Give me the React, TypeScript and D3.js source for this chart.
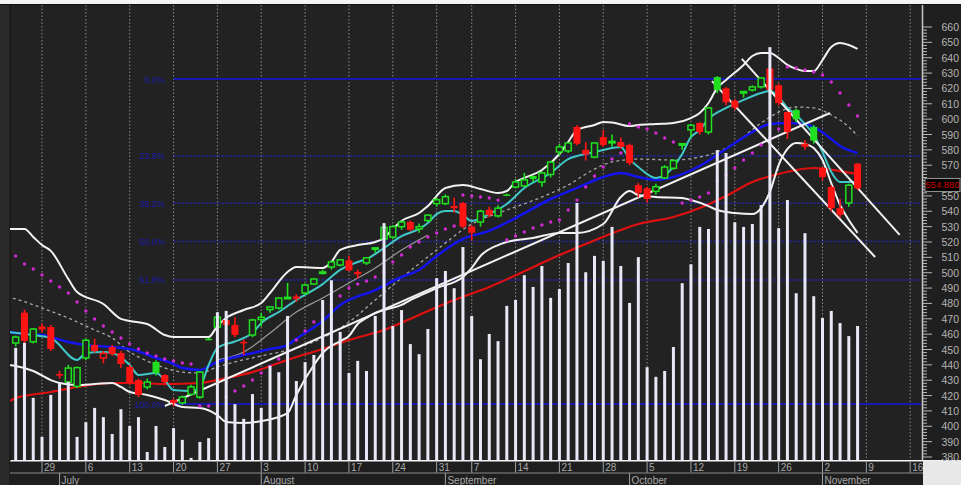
import React from "react";
import * as d3 from "d3";

const W = 961, H = 485;
const PL = 10, PR = 921, PT = 5, PB = 460;

const openP = [454.2,474,455,465,464.6,434,428.8,426,444.5,453,444.5,451.6,447.7,438.6,430.1,425.6,441.9,433.4,417.1,415.2,420.8,419,457,464.6,469.2,466,455,459.4,469.5,476,477,483.5,484.5,486.8,492.6,499.7,503.7,505,508,500.5,506.4,515.5,522,523.2,530,533,528.5,534,545,545,543.5,545.4,530,533,541,537,551,555.8,556.5,563,559,564,578.6,579.3,594.9,580,575.3,588.4,585,585.1,583.2,557,555,553,561.7,568,583,593,597.5,591.6,627.4,620,612,617,619,621,633,622,604.6,606,584,595,568.2,555.8,542,545.4,571];
const highP = [459,476,464,467,466,436,440,439,457,457,449,453,449,440,431,431,443,434,418,420,427,436,457.5,473,470,471,456.5,470,474,478,484,493.3,486,493,496.5,502,508,509,511,502,510,516.5,532,531,534,534,532,538,549,551,549,546,531,541,543,544,551.5,561,565,563.5,566,573,584,585,596,585,585,593,590,588,584,558.5,556,558,570,574,584.5,597,598,608,628,621,613,618,622,627,634,623,605,607,586.5,596,569,557,548,558,571.5];
const lowP = [452,454,454,461,449,431,428,425,443,448,441,446,438,427,419,424,433,428,413,414,420,418,456,462,465,458,446.4,458,465,474,476,483,481,485.5,492,499,502,504,501,496,505,513,521,522,528,527,526,533,543,544,539,529,521,530,536,536,550,555,556,559,556,562,576,578,583,573,574.5,582,582,581,570,549,545.5,551,561,567,580,588,590,590,617,609,606,614,618,620,618,609,587,598,580,584,560,540,536,543,554];
const closeP = [458.1,455.6,463.3,463,450.3,433,437.9,438.2,456,449,447.5,447,440.6,428.2,420.4,428.8,434.8,428.8,415.2,419,425.6,435.3,456.5,471.1,466,459.4,454,469.2,471,477.7,483.5,484,483,492,495.9,500.5,507,508.4,501.5,499,509.7,516.2,529.5,530,533,528,530,537.5,547.5,549.5,542,530,526,540,537.5,542,550.5,559.1,560.5,561,565,572,581.9,584.5,584,577,584.5,583.2,585.5,582,571.4,552,548,556,568.8,573,584,596,591.6,607.3,619,611,607.5,618,621,626.8,619,610.5,591.6,600,582,586,562.3,542,537.6,557,554.88];
const volume = [26.7,27.9,14.8,5.5,15.5,18.3,18.6,5.5,9.0,12.4,10.2,6.2,12.1,8.1,10.2,1.9,8.1,3.1,7.6,4.8,0.5,4.3,5.2,35.2,35.5,13.3,9.8,15.7,12.4,22.4,20.9,34.3,18.8,23.3,25.0,38.1,42.8,30.5,20.7,23.6,21.2,34.3,56.4,31.9,35.7,27.6,25.2,31.2,43.3,45.0,40.9,50.7,34.3,24.0,30.0,28.3,36.7,38.1,44.0,41.2,46.2,38.6,40.7,46.9,61.2,44.7,48.6,47.4,55.5,46.2,37.4,48.3,22.1,19.8,21.2,26.9,42.1,46.6,55.5,55.0,73.8,73.1,56.6,55.5,56.2,60.7,98.3,55.2,61.9,39.7,54.0,39.0,33.8,35.5,32.6,29.5,31.9];
const sar = [510.9,505.7,502.4,498.5,494.6,490.7,486.8,480.9,475.1,469.9,465.3,461.4,457.5,453.6,450.3,447.7,445.8,443.8,442.5,441.2,440.6,413.2,413.2,415.8,419.1,423.0,426.2,430.1,434.7,439.2,443.8,449.7,456.2,462.0,467.9,473.1,479.0,484.8,490.0,492.6,494.6,497.2,500.5,507.0,511.5,516.7,520.0,523.3,525.9,528.5,530.4,550.6,550.0,549.3,548.7,547.3,521.3,523.9,526.5,529.1,531.1,533.0,534.3,540.8,547.3,555.8,563.0,568.8,574.0,578.0,596.8,594.9,593.6,591.0,587.7,585.1,545.4,547.3,549.3,551.9,559.7,563.6,568.2,573.4,578.0,583.2,587.7,593.6,634.0,633.3,632.0,630.7,628.7,624.2,617.0,609.2,602.0];

const upperBand = [[-1,528.5],[1,528.5],[2,523.3],[3,518.0],[4,514.2],[6,495.9],[7,487.4],[10,479.6],[12,469.9],[13,468.6],[15,466.6],[17,459.4],[18,458.1],[22,458.1],[23,465.3],[24,470.5],[26,475.7],[28,480.3],[29,486.8],[31,500.5],[32,503.7],[35,503.1],[36,507.0],[37,514.8],[39,518.0],[41,520.0],[42,522.6],[43,528.5],[44,533.7],[46,538.9],[47,543.4],[49,555.2],[51,557.1],[53,554.5],[55,551.9],[56,553.2],[57,559.1],[58,561.7],[60,566.9],[62,577.3],[63,585.1],[64,592.9],[66,596.2],[67,598.1],[68,597.8],[70,595.5],[71,596.2],[73,596.8],[75,597.5],[77,600.7],[78,604.0],[79,610.5],[80,620.3],[81,625.5],[83,635.3],[84,641.1],[85,643.1],[86,643.1],[87,639.8],[88,635.3],[89,632.7],[90,631.3],[91,631.3],[92,638.5],[93,647.0],[94,649.6],[95,648.3],[96,645.7]];
const lowerBand = [[-1,439.9],[0,439.3],[2,436.0],[4,430.1],[5,428.2],[7,426.9],[9,427.5],[11,428.2],[12,425.6],[13,422.3],[15,420.4],[17,417.1],[19,412.6],[21,411.9],[23,407.3],[24,402.8],[26,402.1],[28,403.4],[31,408.6],[32,420.4],[34,439.9],[35,447.7],[37,455.5],[38,458.8],[39,466.6],[40,470.5],[41,473.8],[42,475.7],[44,479.0],[45,482.2],[46,484.8],[48,490.0],[51,497.2],[52,503.1],[53,510.9],[55,518.0],[56,520.0],[59,522.6],[62,525.9],[64,525.9],[67,531.7],[69,549.3],[70,553.2],[71,550.6],[73,549.3],[76,548.7],[77,547.3],[79,543.4],[80,540.8],[82,538.9],[84,538.2],[85,542.1],[86,552.6],[87,570.1],[88,580.6],[89,584.5],[90,583.8],[91,581.2],[92,573.4],[93,558.4],[94,544.1],[95,534.3],[96,525.9]];
const midBand = [[-1,484.2],[0,482.9],[3,477.0],[6,470.5],[9,462.7],[11,457.5],[13,448.4],[15,442.5],[17,438.0],[19,435.3],[21,434.7],[23,438.6],[25,441.9],[28,445.8],[32,451.0],[35,457.5],[38,467.9],[41,482.2],[44,496.6],[48,514.8],[52,531.7],[56,540.8],[60,549.3],[63,557.1],[66,567.5],[68,572.1],[71,574.0],[75,573.4],[79,576.7],[82,584.5],[85,597.5],[87,604.6],[89,607.9],[91,607.3],[93,602.7],[95,594.9],[96,589.0]];
const grayMA = [[23,443.2],[26,448.4],[29,460.7],[32,474.4],[35,483.5],[38,493.3],[41,503.1],[44,514.8],[47,524.6]];
const cyanMA = [[-1,461.4],[2,459.4],[4,457.5],[7,443.2],[8,447.7],[10,448.4],[11,447.7],[13,439.9],[14,433.4],[16,434.7],[17,430.1],[18,423.6],[20,422.9],[21,425.6],[22,439.9],[23,451.0],[25,455.2],[26,457.5],[27,460.7],[28,467.3],[30,474.4],[32,482.2],[35,492.6],[37,501.8],[39,507.0],[40,508.9],[42,516.1],[44,523.9],[46,528.5],[47,532.4],[48,538.2],[49,540.2],[50,540.2],[51,537.6],[52,533.7],[54,538.2],[56,544.7],[58,555.2],[61,564.9],[63,574.0],[64,576.0],[66,578.6],[67,579.9],[68,581.2],[69,581.9],[70,574.0],[71,568.8],[73,561.7],[74,563.6],[76,577.3],[77,588.4],[78,592.9],[79,600.1],[81,607.3],[83,612.5],[85,617.0],[86,618.3],[87,614.4],[88,607.3],[89,602.7],[90,596.8],[91,589.7],[92,578.6],[93,565.6],[94,559.1],[95,559.1],[96,559.1]];
const blueMA = [[-1,462.0],[0,460.7],[3,459.4],[6,454.9],[8,452.9],[11,451.6],[13,450.3],[16,444.5],[18,440.6],[19,437.9],[21,436.7],[23,441.9],[25,445.1],[26,446.4],[29,450.3],[31,452.9],[32,457.0],[35,468.6],[37,479.0],[41,488.7],[44,497.2],[46,501.8],[48,510.9],[51,522.0],[54,527.2],[57,535.6],[61,548.0],[64,555.2],[67,562.3],[69,564.9],[71,562.3],[73,560.4],[75,562.3],[78,569.5],[81,580.6],[84,591.6],[86,596.8],[88,597.5],[90,596.8],[91,594.9],[93,587.1],[94,582.5],[96,578.0]];
const redMA = [[-1,415.2],[0,418.4],[4,422.3],[7,425.6],[11,428.2],[14,428.2],[17,427.5],[21,428.2],[24,431.4],[27,435.3],[30,441.2],[32,445.1],[35,450.3],[38,456.2],[42,462.7],[46,472.5],[50,482.2],[54,490.7],[58,500.9],[61,508.9],[65,518.7],[69,527.8],[71,531.7],[75,536.3],[78,542.1],[81,549.9],[84,559.1],[87,564.3],[89,566.9],[91,568.2],[94,566.2],[96,564.3]];
const trendLines = [
  [[17, 413.2], [92.85, 604.0]],
  [[79.4, 624.8], [98.0, 510.2]],
  [[82.8, 639.2], [100.8, 524.6]],
];

const fibHigh = 626.1, fibLow = 414.5, fibStart = 18;
const fibPct = [0, 23.6, 38.2, 50, 61.8, 100];
const fibLabels = ["0.0%", "23.6%", "38.2%", "50.0%", "61.8%", "100.0%"];

const dayTickIdx = [3,8,13,18,23,28,33,38,43,48,52,57,62,67,72,77,82,87,92,97,102];
const dayTickLbl = ["29","6","13","20","27","3","10","17","24","31","7","14","21","28","5","12","19","26","2","9","16"];
const monthIdx = [5,28,49,70,92];
const monthLbl = ["July","August","September","October","November"];
const lastClose = 554.88;
const lastPrice = "554.880";

const GREEN = "#20e020", RED = "#ff1414", BG = "#222222";
const FONT = "'Liberation Sans', Arial, sans-serif";

export default function App() {
  const x = d3.scaleLinear().domain([0, 102]).range([15.7, 910.2]);
  const y = d3.scaleLinear().domain([380, 660]).range([457, 27]);
  const yv = d3.scaleLinear().domain([0, 100]).range([PB, 40]);
  const line = d3.line<number[]>().x(d => x(d[0])).y(d => y(d[1])).curve(d3.curveMonotoneX);
  const straight = d3.line<number[]>().x(d => x(d[0])).y(d => y(d[1]));

  const axisTicks = d3.range(380, 661, 2);
  const tagTop = y(lastClose) - 10;
  const tagH = 13;
  // the value label hidden behind the last-price tag is not drawn (as in the reference)
  const labelTicks = d3.range(380, 661, 10).filter(v => {
    const ty = y(v) + 4;
    return !(ty - 8 < tagTop + tagH && ty > tagTop);
  });

  return (
    <div style={{ position: "absolute", left: 0, top: 0 }}>
      <svg width={W} height={H} style={{ display: "block", fontFamily: FONT }}>
        <defs>
          <clipPath id="plot"><rect x={PL} y={PT} width={PR - PL} height={PB - PT} /></clipPath>
        </defs>
        <rect x={0} y={0} width={W} height={H} fill="#f4f4f4" />
        <rect x={0} y={PT} width={W} height={PB - PT} fill={BG} />
        <rect x={0} y={PT} width={PL} height={H - PT} fill="#2a2a2a" />
        <line x1={PL} x2={PL} y1={PT} y2={H} stroke="#111" />
        <line x1={0} x2={W} y1={PT - 0.5} y2={PT - 0.5} stroke="#111" />

        <g clipPath="url(#plot)">
          {dayTickIdx.map((t, k) => (
            <line key={"g" + k} x1={x(t)} x2={x(t)} y1={PT} y2={PB} stroke="#8a8a8a" strokeWidth={1} strokeDasharray="1.5 2" />
          ))}
          {fibPct.map((p, k) => {
            const v = fibHigh - (p / 100) * (fibHigh - fibLow);
            const solid = p === 0 || p === 100;
            return (
              <line key={"f" + k} x1={x(fibStart)} x2={PR} y1={y(v)} y2={y(v)}
                stroke={solid ? "#1818b0" : "#2424b8"} strokeWidth={solid ? 2 : 1.5}
                strokeDasharray={solid ? undefined : "2 2"} />
            );
          })}
          <path d={line(midBand) || ""} fill="none" stroke="#a8a8a8" strokeWidth={1.3} strokeDasharray="3 3" />
          <path d={line(grayMA) || ""} fill="none" stroke="#9a9a9a" strokeWidth={1.2} />
          <path d={line(redMA) || ""} fill="none" stroke="#e01010" strokeWidth={2.2} />
          <path d={line(blueMA) || ""} fill="none" stroke="#1414f0" strokeWidth={2.5} />
          <path d={line(cyanMA) || ""} fill="none" stroke="#40c8c8" strokeWidth={2} />
          <path d={line(upperBand) || ""} fill="none" stroke="#f2f2f2" strokeWidth={2} />
          <path d={line(lowerBand) || ""} fill="none" stroke="#f2f2f2" strokeWidth={2} />
          {trendLines.map((tl, k) => (
            <path key={"t" + k} d={straight(tl) || ""} fill="none" stroke="#f2f2f2" strokeWidth={2} />
          ))}
          {sar.map((v, i) => (
            <circle key={"s" + i} cx={x(i)} cy={y(v)} r={1.7} fill="#d22ad2" />
          ))}
          {openP.map((o, i) => {
            const c = closeP[i];
            const up = i === 0 ? true : c >= closeP[i - 1];
            const col = up ? GREEN : RED;
            const hollow = c > o;
            const cx = x(i);
            const top = y(Math.max(o, c));
            const bot = y(Math.min(o, c));
            const bh = Math.max(bot - top, 1.5);
            if (hollow) {
              return (
                <g key={"c" + i}>
                  <line x1={cx} x2={cx} y1={y(highP[i])} y2={top} stroke={col} strokeWidth={1.6} />
                  <line x1={cx} x2={cx} y1={top + bh} y2={y(lowP[i])} stroke={col} strokeWidth={1.6} />
                  <rect x={cx - 3} y={top} width={6} height={bh} fill={BG} stroke={col} strokeWidth={1.5} />
                </g>
              );
            }
            return (
              <g key={"c" + i}>
                <line x1={cx} x2={cx} y1={y(highP[i])} y2={y(lowP[i])} stroke={col} strokeWidth={1.6} />
                <rect x={cx - 3.5} y={top} width={7} height={bh} fill={col} />
              </g>
            );
          })}
          {volume.map((v, i) => (
            <rect key={"v" + i} x={x(i) - 1.5} y={yv(v)} width={3} height={PB - yv(v)} fill="#e8e8f6" />
          ))}
        </g>

        {fibPct.map((p, k) => {
          const v = fibHigh - (p / 100) * (fibHigh - fibLow);
          return (
            <text key={"fl" + k} x={165} y={y(v) + 3.5} textAnchor="end" fontSize={9} fill="#1c1ca8">{fibLabels[k]}</text>
          );
        })}

        {/* right axis */}
        <rect x={PR} y={PT} width={W - PR} height={PB - PT} fill="#1f1f1f" />
        <line x1={922.5} x2={922.5} y1={PT} y2={PB} stroke="#c8c8c8" strokeWidth={1.5} />
        {axisTicks.map(v => (
          <line key={"at" + v} x1={923} x2={v % 10 === 0 ? 932 : 927} y1={y(v)} y2={y(v)} stroke="#b8b8b8" strokeWidth={1} />
        ))}
        {labelTicks.map(v => (
          <text key={"al" + v} x={959} y={y(v) + 4} textAnchor="end" fontSize={10.5} fill="#b4b4b4">{v}</text>
        ))}
        <rect x={925} y={tagTop} width={35} height={tagH} fill="#000" stroke="#999" strokeWidth={1} />
        <text x={942.5} y={tagTop + 10} textAnchor="middle" fontSize={9.5} fill="#d00000">{lastPrice}</text>

        {/* bottom axis */}
        <rect x={PL} y={PB + 1} width={PR + 2 - PL} height={H - PB - 1} fill="#1e1e1e" />
        <line x1={PL} x2={PR + 2} y1={PB + 1.5} y2={PB + 1.5} stroke="#8a8a8a" />
        <line x1={PL} x2={PR + 2} y1={473} y2={473} stroke="#8a8a8a" />
        {dayTickIdx.map((t, k) => (
          <g key={"d" + k}>
            <line x1={x(t)} x2={x(t)} y1={462} y2={472.5} stroke="#a0a0a0" />
            <text x={x(t) + 2} y={471} fontSize={10} fill="#a8a8a8">{dayTickLbl[k]}</text>
          </g>
        ))}
        {monthIdx.map((t, k) => (
          <g key={"m" + k}>
            <line x1={x(t)} x2={x(t)} y1={473} y2={H} stroke="#a0a0a0" />
            <text x={x(t) + 2} y={483.5} fontSize={10} fill="#a8a8a8">{monthLbl[k]}</text>
          </g>
        ))}
        <rect x={923} y={PB + 1} width={W - 923} height={H - PB - 1} fill="#e8e8e8" />
      </svg>
    </div>
  );
}
